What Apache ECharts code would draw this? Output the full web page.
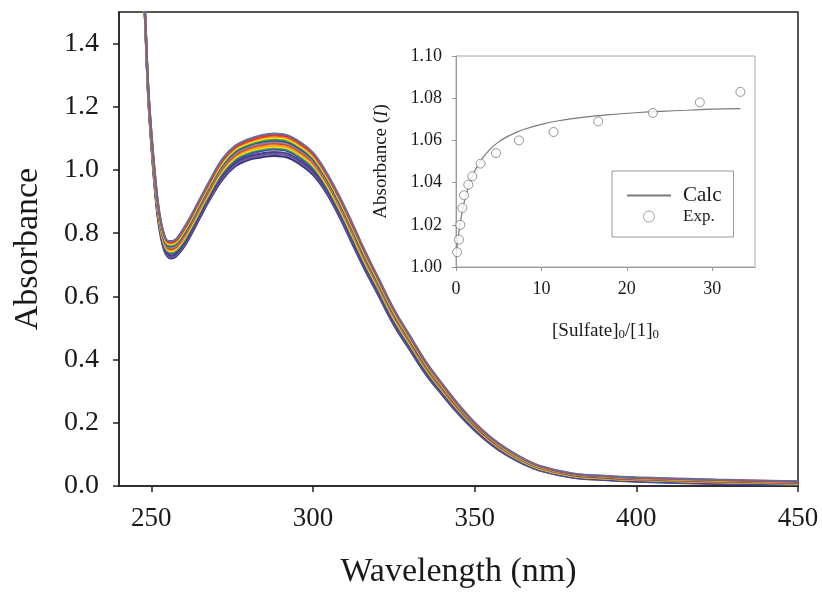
<!DOCTYPE html>
<html>
<head>
<meta charset="utf-8">
<title>Absorbance spectra – sulfate titration</title>
<script src="https://cdn.jsdelivr.net/npm/echarts@6/dist/echarts.min.js"></script>
<style>
  html, body { margin: 0; padding: 0; background: #fff; }
  #chart { width: 822px; height: 594px; }
</style>
</head>
<body>
<div id="chart"></div>
<script>
// Wavelength grid (nm) shared by every spectrum
const wavelengths = [246, 247, 248, 249, 250, 251, 252, 253, 254, 255, 256, 257, 258, 260, 262, 265, 268,
  272, 276, 280, 284, 288, 292, 296, 300, 304, 308, 312, 316, 320, 325, 330, 335, 340, 345, 350, 355,
  360, 365, 370, 380, 390, 400, 425, 450];

// Absorbance at each wavelength (one row per wavelength, one column per titration step, 15 steps)
const absorbanceRows = [
  [1.920, 1.920, 1.920, 1.920, 1.920, 1.920, 1.920, 1.920, 1.920, 1.920, 1.920, 1.920, 1.920, 1.920, 1.920],
  [1.700, 1.700, 1.700, 1.700, 1.700, 1.700, 1.700, 1.700, 1.700, 1.700, 1.700, 1.700, 1.700, 1.700, 1.700],
  [1.490, 1.492, 1.493, 1.496, 1.497, 1.498, 1.499, 1.501, 1.502, 1.504, 1.505, 1.506, 1.507, 1.509, 1.510],
  [1.240, 1.242, 1.245, 1.248, 1.251, 1.253, 1.254, 1.257, 1.259, 1.261, 1.263, 1.265, 1.266, 1.268, 1.270],
  [1.080, 1.083, 1.087, 1.091, 1.094, 1.097, 1.099, 1.102, 1.105, 1.108, 1.110, 1.113, 1.115, 1.117, 1.120],
  [0.950, 0.954, 0.959, 0.964, 0.968, 0.971, 0.974, 0.978, 0.981, 0.985, 0.988, 0.991, 0.994, 0.997, 1.000],
  [0.850, 0.854, 0.859, 0.864, 0.868, 0.871, 0.874, 0.878, 0.881, 0.885, 0.888, 0.891, 0.894, 0.897, 0.900],
  [0.785, 0.789, 0.794, 0.799, 0.803, 0.806, 0.809, 0.813, 0.816, 0.820, 0.823, 0.826, 0.829, 0.832, 0.835],
  [0.745, 0.749, 0.754, 0.759, 0.763, 0.766, 0.769, 0.773, 0.776, 0.780, 0.783, 0.786, 0.789, 0.792, 0.795],
  [0.726, 0.730, 0.735, 0.740, 0.744, 0.747, 0.750, 0.754, 0.757, 0.761, 0.764, 0.767, 0.770, 0.773, 0.776],
  [0.720, 0.724, 0.729, 0.735, 0.739, 0.743, 0.746, 0.750, 0.754, 0.759, 0.761, 0.765, 0.768, 0.771, 0.775],
  [0.722, 0.726, 0.731, 0.737, 0.741, 0.745, 0.748, 0.752, 0.756, 0.761, 0.763, 0.767, 0.770, 0.773, 0.777],
  [0.730, 0.734, 0.739, 0.745, 0.749, 0.753, 0.756, 0.760, 0.764, 0.769, 0.771, 0.775, 0.778, 0.781, 0.785],
  [0.755, 0.760, 0.765, 0.772, 0.776, 0.780, 0.783, 0.788, 0.792, 0.797, 0.800, 0.804, 0.807, 0.811, 0.815],
  [0.790, 0.795, 0.800, 0.807, 0.811, 0.815, 0.818, 0.823, 0.827, 0.832, 0.835, 0.839, 0.842, 0.846, 0.850],
  [0.848, 0.853, 0.858, 0.865, 0.869, 0.873, 0.876, 0.881, 0.885, 0.890, 0.893, 0.897, 0.900, 0.904, 0.908],
  [0.905, 0.910, 0.915, 0.922, 0.926, 0.930, 0.933, 0.938, 0.942, 0.947, 0.950, 0.954, 0.957, 0.961, 0.965],
  [0.970, 0.975, 0.981, 0.988, 0.993, 0.997, 1.001, 1.006, 1.010, 1.016, 1.019, 1.023, 1.027, 1.030, 1.035],
  [1.012, 1.017, 1.023, 1.030, 1.035, 1.039, 1.043, 1.048, 1.052, 1.058, 1.061, 1.065, 1.069, 1.072, 1.077],
  [1.032, 1.037, 1.043, 1.050, 1.055, 1.059, 1.063, 1.068, 1.072, 1.078, 1.081, 1.085, 1.089, 1.092, 1.097],
  [1.040, 1.046, 1.052, 1.060, 1.065, 1.069, 1.073, 1.079, 1.083, 1.089, 1.093, 1.097, 1.101, 1.105, 1.110],
  [1.045, 1.051, 1.057, 1.065, 1.070, 1.074, 1.078, 1.084, 1.088, 1.094, 1.098, 1.102, 1.106, 1.110, 1.115],
  [1.040, 1.046, 1.052, 1.060, 1.065, 1.069, 1.073, 1.079, 1.083, 1.089, 1.093, 1.097, 1.101, 1.105, 1.110],
  [1.018, 1.024, 1.030, 1.038, 1.043, 1.047, 1.051, 1.057, 1.061, 1.067, 1.071, 1.075, 1.079, 1.083, 1.088],
  [0.985, 0.991, 0.997, 1.005, 1.010, 1.014, 1.018, 1.024, 1.028, 1.034, 1.038, 1.042, 1.046, 1.050, 1.055],
  [0.930, 0.935, 0.941, 0.948, 0.953, 0.957, 0.961, 0.966, 0.970, 0.976, 0.979, 0.983, 0.987, 0.990, 0.995],
  [0.855, 0.860, 0.866, 0.873, 0.878, 0.882, 0.886, 0.891, 0.895, 0.901, 0.904, 0.908, 0.912, 0.915, 0.920],
  [0.770, 0.775, 0.781, 0.788, 0.793, 0.797, 0.801, 0.806, 0.810, 0.816, 0.819, 0.823, 0.827, 0.830, 0.835],
  [0.685, 0.690, 0.695, 0.702, 0.706, 0.710, 0.713, 0.718, 0.722, 0.727, 0.730, 0.734, 0.737, 0.741, 0.745],
  [0.608, 0.612, 0.617, 0.623, 0.627, 0.631, 0.634, 0.638, 0.642, 0.647, 0.649, 0.653, 0.656, 0.659, 0.663],
  [0.510, 0.514, 0.519, 0.524, 0.528, 0.531, 0.534, 0.538, 0.541, 0.545, 0.548, 0.551, 0.554, 0.557, 0.560],
  [0.430, 0.434, 0.438, 0.443, 0.446, 0.449, 0.451, 0.455, 0.458, 0.462, 0.464, 0.467, 0.469, 0.472, 0.475],
  [0.352, 0.355, 0.359, 0.363, 0.366, 0.369, 0.371, 0.374, 0.377, 0.380, 0.382, 0.385, 0.387, 0.389, 0.392],
  [0.288, 0.291, 0.294, 0.298, 0.300, 0.303, 0.304, 0.307, 0.310, 0.313, 0.314, 0.317, 0.318, 0.321, 0.323],
  [0.228, 0.230, 0.233, 0.236, 0.239, 0.241, 0.242, 0.245, 0.247, 0.249, 0.251, 0.253, 0.254, 0.256, 0.258],
  [0.176, 0.178, 0.180, 0.183, 0.185, 0.187, 0.188, 0.190, 0.192, 0.194, 0.195, 0.197, 0.198, 0.199, 0.201],
  [0.132, 0.134, 0.136, 0.138, 0.140, 0.141, 0.142, 0.144, 0.146, 0.147, 0.149, 0.150, 0.151, 0.152, 0.154],
  [0.097, 0.099, 0.100, 0.103, 0.104, 0.105, 0.106, 0.108, 0.109, 0.111, 0.112, 0.113, 0.114, 0.116, 0.117],
  [0.070, 0.071, 0.073, 0.075, 0.076, 0.077, 0.078, 0.079, 0.081, 0.082, 0.083, 0.084, 0.085, 0.086, 0.087],
  [0.049, 0.050, 0.052, 0.053, 0.054, 0.055, 0.056, 0.057, 0.058, 0.060, 0.060, 0.061, 0.062, 0.063, 0.064],
  [0.027, 0.028, 0.029, 0.031, 0.032, 0.032, 0.033, 0.034, 0.035, 0.036, 0.037, 0.038, 0.038, 0.039, 0.040],
  [0.019, 0.020, 0.021, 0.023, 0.024, 0.024, 0.025, 0.026, 0.027, 0.028, 0.029, 0.030, 0.030, 0.031, 0.032],
  [0.014, 0.015, 0.016, 0.018, 0.019, 0.019, 0.020, 0.021, 0.022, 0.023, 0.024, 0.025, 0.025, 0.026, 0.027],
  [0.007, 0.008, 0.009, 0.011, 0.012, 0.012, 0.013, 0.014, 0.015, 0.016, 0.017, 0.018, 0.018, 0.019, 0.020],
  [0.003, 0.004, 0.005, 0.006, 0.007, 0.008, 0.009, 0.010, 0.010, 0.011, 0.012, 0.013, 0.013, 0.014, 0.015]
];

// Line colour of each titration step (first step drawn first, at the bottom of the band)
const spectrumColors = ['#3d3480', '#6b5fa0', '#4b3f8c', '#3a4ea3', '#4aa24a', '#efe11f', '#f6a21b', '#e23a2e',
  '#8b8898', '#3e3c8f', '#43a047', '#f1e41c', '#f7941d', '#e5322b', '#6e6a94'];

// Tick values of the main panel
const wavelengthTicks = [250, 300, 350, 400, 450];
const absorbanceTicks = [0, 0.2, 0.4, 0.6, 0.8, 1.0, 1.2, 1.4];

// Inset: experimental absorbance vs. [Sulfate]0/[1]0
const ratioExp = [0.12, 0.35, 0.5, 0.74, 0.94, 1.44, 1.91, 2.88, 4.68, 7.37, 11.42, 16.65, 23.04, 28.54, 33.29];
const absExp = [1.007, 1.013, 1.020, 1.028, 1.034, 1.039, 1.043, 1.049, 1.054, 1.060, 1.064, 1.069, 1.073, 1.078, 1.083];

// Inset: calculated binding curve
const ratioCalc = [0, 0.25, 0.5, 0.75, 1, 1.5, 2, 2.5, 3, 4, 5, 6, 7, 8, 10, 12, 15, 18, 21, 24, 27, 30, 33.3];
const absCalc = [1.0050, 1.0139, 1.0210, 1.0266, 1.0313, 1.0385, 1.0438, 1.0478, 1.0510, 1.0559, 1.0593, 1.0618,
  1.0637, 1.0653, 1.0676, 1.0693, 1.0710, 1.0722, 1.0731, 1.0738, 1.0743, 1.0748, 1.0751];

// Inset tick values
const ratioTicks = [0, 10, 20, 30];

const serif = '"Liberation Serif", "Times New Roman", Times, serif';
const ink = '#1a1a1a';

const spectrumSeries = spectrumColors.map((color, k) => ({
  type: 'line',
  name: 'step' + (k + 1),
  xAxisIndex: 0,
  yAxisIndex: 0,
  data: wavelengths.map((w, i) => [w, absorbanceRows[i][k]]),
  showSymbol: false,
  smooth: 0.4,
  clip: true,
  lineStyle: { color: color, width: 2.2 },
  silent: true,
  z: 2
}));

const chart = echarts.init(document.getElementById('chart'), null, { renderer: 'canvas' });

chart.setOption({
  animation: false,
  backgroundColor: '#ffffff',
  grid: [
    { left: 119, top: 12, width: 679, height: 475, show: true, borderColor: '#222', borderWidth: 1.5, containLabel: false },
    { left: 456, top: 56, width: 299, height: 211, show: true, borderColor: '#a8a8a8', borderWidth: 1, containLabel: false }
  ],
  legend: {
    data: [
      { name: 'Calc', itemStyle: { opacity: 0 } },
      { name: 'Exp.', itemStyle: { color: '#ffffff', borderColor: '#8a8a8a', borderWidth: 1 } }
    ],
    orient: 'vertical',
    left: 612,
    top: 171,
    padding: [14, 12, 12, 14],
    itemGap: 2,
    itemWidth: 44,
    itemHeight: 11,
    borderColor: '#999',
    borderWidth: 1,
    backgroundColor: '#fff',
    selectedMode: false,
    formatter: name => name === 'Calc' ? '{big|Calc}' : '{small|Exp.}',
    textStyle: {
      color: ink,
      fontFamily: serif,
      rich: {
        big: { fontSize: 21, lineHeight: 22, fontFamily: serif, color: ink, padding: [0, 0, 0, 7] },
        small: { fontSize: 17, lineHeight: 22, fontFamily: serif, color: ink, padding: [0, 0, 0, 7] }
      }
    }
  },
  xAxis: [
    {
      gridIndex: 0, type: 'value', min: 240, max: 450,
      axisLine: { lineStyle: { color: '#222', width: 1.5 } },
      axisTick: { length: 6, customValues: wavelengthTicks, lineStyle: { color: '#222', width: 1.5 } },
      axisLabel: { customValues: wavelengthTicks, fontSize: 27, fontFamily: serif, color: ink, margin: 19 },
      splitLine: { show: false },
      name: 'Wavelength (nm)', nameLocation: 'middle', nameGap: 69,
      nameTextStyle: { fontSize: 34, fontFamily: serif, color: ink }
    },
    {
      gridIndex: 1, type: 'value', min: 0, max: 35,
      axisLine: { lineStyle: { color: '#999', width: 1 } },
      axisTick: { length: 4, customValues: ratioTicks, lineStyle: { color: '#999', width: 1 } },
      axisLabel: { customValues: ratioTicks, fontSize: 18, fontFamily: serif, color: ink, margin: 13 },
      splitLine: { show: false },
      name: '[Sulfate]{s|0}/[1]{s|0}', nameLocation: 'middle', nameGap: 54,
      nameTextStyle: {
        fontSize: 19, fontFamily: serif, color: ink, lineHeight: 20,
        rich: { s: { fontSize: 13, lineHeight: 6, verticalAlign: 'bottom', fontFamily: serif, color: ink } }
      }
    }
  ],
  yAxis: [
    {
      gridIndex: 0, type: 'value', min: 0, max: 1.5,
      axisLine: { lineStyle: { color: '#222', width: 1.5 } },
      axisTick: { length: 6, customValues: absorbanceTicks, lineStyle: { color: '#222', width: 1.5 } },
      axisLabel: { customValues: absorbanceTicks, fontSize: 28, fontFamily: serif, color: ink, margin: 20,
        formatter: v => v.toFixed(1) },
      splitLine: { show: false },
      name: 'Absorbance', nameLocation: 'middle', nameGap: 74,
      nameTextStyle: { fontSize: 34, fontFamily: serif, color: ink }
    },
    {
      gridIndex: 1, type: 'value', min: 1.00, max: 1.10, interval: 0.02,
      axisLine: { lineStyle: { color: '#999', width: 1 } },
      axisTick: { length: 4, lineStyle: { color: '#999', width: 1 } },
      axisLabel: { fontSize: 18, fontFamily: serif, color: ink, margin: 14, formatter: v => v.toFixed(2) },
      splitLine: { show: false },
      name: 'Absorbance ({it|I})', nameLocation: 'middle', nameGap: 65,
      nameTextStyle: {
        fontSize: 19, fontFamily: serif, color: ink,
        rich: { it: { fontSize: 19, fontStyle: 'italic', fontFamily: serif, color: ink } }
      }
    }
  ],
  series: spectrumSeries.concat([
    {
      type: 'line', name: 'Calc', xAxisIndex: 1, yAxisIndex: 1,
      data: ratioCalc.map((x, i) => [x, absCalc[i]]),
      showSymbol: false, symbol: 'none', smooth: 0.3,
      lineStyle: { color: '#7a7a7a', width: 1.2 },
      itemStyle: { color: '#7a7a7a' },
      z: 5
    },
    {
      type: 'scatter', name: 'Exp.', xAxisIndex: 1, yAxisIndex: 1,
      data: ratioExp.map((x, i) => [x, absExp[i]]),
      symbol: 'circle', symbolSize: 9,
      itemStyle: { color: '#ffffff', borderColor: '#7a7a7a', borderWidth: 1 },
      z: 6
    }
  ])
});
</script>
</body>
</html>
